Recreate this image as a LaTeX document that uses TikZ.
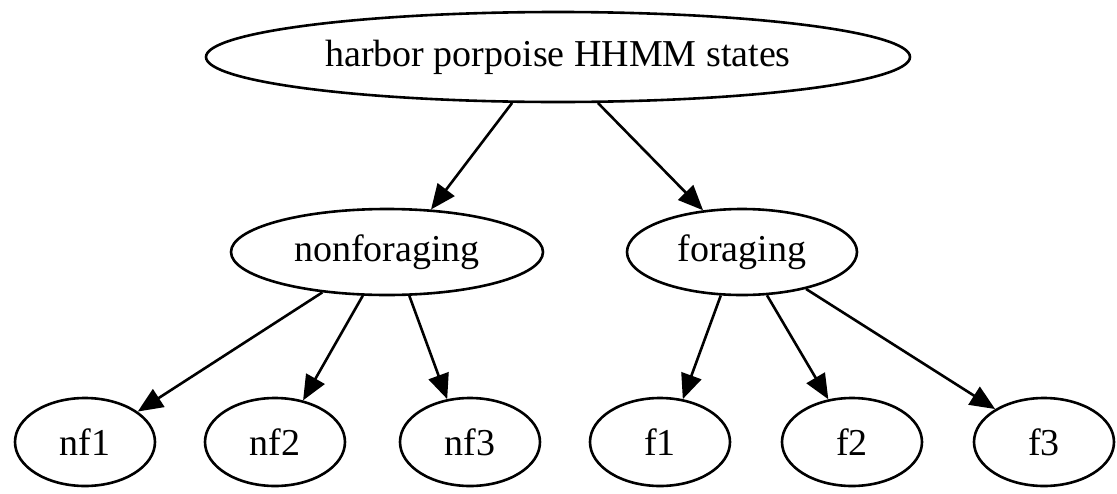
\documentclass[tikz,border=0pt]{standalone}
\usepackage{fontspec}
\setmainfont{Liberation Serif}
\usetikzlibrary{shapes.geometric,arrows.meta}
\begin{document}
\begin{tikzpicture}[x=1pt,y=-1pt,
  st/.style={draw,ellipse,line width=2.6pt,inner sep=0pt,font=\fontsize{38}{40}\selectfont},
  edge/.style={line width=2.6pt,-{Triangle[length=25pt,width=21pt]}}]
\useasboundingbox (0,0) rectangle (1117,493);
\node[st,minimum width=704,minimum height=90] (top) at (558,57) {harbor porpoise HHMM states};
\node[st,minimum width=312,minimum height=86] (nonf) at (387,252) {nonforaging};
\node[st,minimum width=230,minimum height=86] (forg) at (742,252) {foraging};
\node[st,minimum width=140,minimum height=88] (nf1) at (85,442) {nf1};
\node[st,minimum width=140,minimum height=88] (nf2) at (275,442) {nf2};
\node[st,minimum width=140,minimum height=88] (nf3) at (470,442) {nf3};
\node[st,minimum width=140,minimum height=88] (f1) at (660,442) {f1};
\node[st,minimum width=140,minimum height=88] (f2) at (852,442) {f2};
\node[st,minimum width=140,minimum height=88] (f3) at (1044,442) {f3};
\draw[edge] (top.225) -- (nonf.44);
\draw[edge] (top.311) -- (forg.133);
\draw[edge] (nonf.212) -- (nf1.30);
\draw[edge] (nonf.241) -- (nf2.56);
\draw[edge] (nonf.297) -- (nf3.118);
\draw[edge] (forg.244) -- (f1.62);
\draw[edge] (forg.300) -- (f2.119);
\draw[edge] (forg.330) -- (f3.146);
\end{tikzpicture}
\end{document}
